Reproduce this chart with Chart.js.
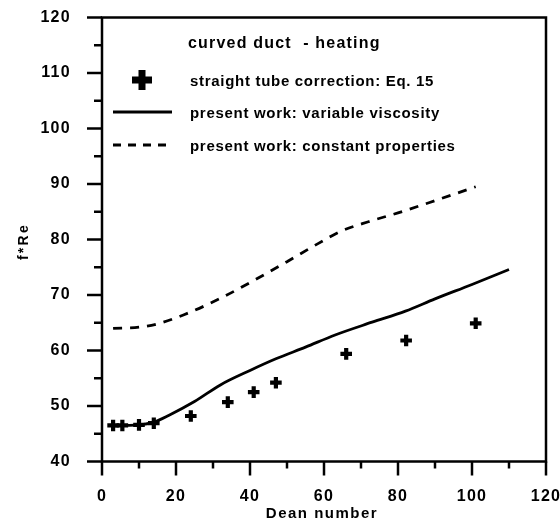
<!DOCTYPE html>
<html>
<head>
<meta charset="utf-8">
<script src="https://cdn.jsdelivr.net/npm/chart.js@4/dist/chart.umd.min.js"></script>
<style>
  html, body { margin: 0; padding: 0; background: #fff; }
  #wrap { width: 560px; height: 524px; }
</style>
</head>
<body>
<div id="wrap"><canvas id="myChart" width="560" height="524"></canvas></div>
<script>
// straight tube correction (Eq. 15) - the plus markers
const eqDean = [3, 5.5, 10, 14, 24, 34, 41, 47, 66, 82.2, 101];
const eqFRe = [46.5, 46.5, 46.6, 46.9, 48.2, 50.7, 52.5, 54.2, 59.4, 61.8, 64.9];

// present work: variable viscosity (solid)
const varDean = [3, 6, 10, 14, 18, 25, 32, 40, 47, 55, 63, 73, 82, 90, 100, 110];
const varFRe = [46.4, 46.5, 46.6, 47.1, 48.3, 50.8, 53.8, 56.4, 58.5, 60.6, 62.8, 65.1, 67.1, 69.3, 71.9, 74.6];

// present work: constant properties (dashed)
const constDean = [3, 10, 15, 22, 32, 41, 50, 58.5, 65, 72, 80, 90, 101];
const constFRe = [64, 64.2, 64.8, 66.4, 69.4, 72.6, 76, 79.3, 81.6, 83.2, 84.8, 87, 89.5];

const legendTitle = 'curved duct  - heating';
const xTitle = 'Dean number';
const yTitle = 'f*Re';
const xTicks = [0, 20, 40, 60, 80, 100, 120];
const yTicks = [40, 50, 60, 70, 80, 90, 100, 110, 120];

const FONT = 'Arial, "Liberation Sans", sans-serif';

function pts(xs, ys) {
    return xs.map((x, i) => ({ x: x, y: ys[i] }));
}

// the old plot has wide spaced lettering, chart.js has no option for it
const spacingPlugin = {
    id: 'spacing',
    beforeUpdate(chart) { chart.ctx.letterSpacing = '1.3px'; },
    beforeDraw(chart) { chart.ctx.letterSpacing = '1.3px'; }
};

// box + major/minor ticks + axis titles + legend, drawn on top
const framePlugin = {
    id: 'frame',
    afterDraw(chart) {
        const ctx = chart.ctx;
        const a = chart.chartArea;
        const xs = chart.scales.x;
        const ys = chart.scales.y;
        ctx.save();
        ctx.strokeStyle = '#000';
        ctx.lineWidth = 2.5;
        ctx.strokeRect(a.left, a.top, a.right - a.left, a.bottom - a.top);

        // y ticks, every 5, major every 10
        for (let v = 40; v <= 120; v += 5) {
            const y = ys.getPixelForValue(v);
            const len = v % 10 === 0 ? 15 : 8;
            ctx.beginPath();
            ctx.moveTo(a.left - len, y);
            ctx.lineTo(a.left, y);
            ctx.stroke();
        }
        // x ticks, every 10, major every 20
        for (let v = 0; v <= 120; v += 10) {
            const x = xs.getPixelForValue(v);
            const len = v % 20 === 0 ? 14 : 7;
            ctx.beginPath();
            ctx.moveTo(x, a.bottom);
            ctx.lineTo(x, a.bottom + len);
            ctx.stroke();
        }

        ctx.fillStyle = '#000';

        // axis titles
        ctx.textAlign = 'center';
        ctx.textBaseline = 'alphabetic';
        ctx.font = 'bold 15px ' + FONT;
        ctx.letterSpacing = '1.5px';
        ctx.fillText(xTitle, (a.left + a.right) / 2 - 2, 518);

        ctx.save();
        ctx.translate(28, (a.top + a.bottom) / 2 + 2);
        ctx.rotate(-Math.PI / 2);
        ctx.font = 'bold 14px ' + FONT;
        ctx.letterSpacing = '2.3px';
        ctx.fillText(yTitle, 0, 0);
        ctx.restore();

        // legend
        const ds = chart.data.datasets;
        ctx.textAlign = 'left';
        ctx.textBaseline = 'alphabetic';
        ctx.font = 'bold 16px ' + FONT;
        ctx.letterSpacing = '1.2px';
        ctx.fillText(legendTitle, 188, 47.5);

        ctx.font = 'bold 15px ' + FONT;
        ctx.letterSpacing = '0.7px';
        const rows = [80, 112, 145];
        // plus marker
        ctx.lineWidth = 7;
        ctx.beginPath();
        ctx.moveTo(132, rows[0]); ctx.lineTo(152, rows[0]);
        ctx.moveTo(142, rows[0] - 10); ctx.lineTo(142, rows[0] + 10);
        ctx.stroke();
        // solid line
        ctx.lineWidth = 2.8;
        ctx.beginPath();
        ctx.moveTo(113, rows[1]); ctx.lineTo(172, rows[1]);
        ctx.stroke();
        // dashed line
        ctx.setLineDash([8, 7]);
        ctx.beginPath();
        ctx.moveTo(113, rows[2]); ctx.lineTo(172, rows[2]);
        ctx.stroke();
        ctx.setLineDash([]);

        ctx.fillText(ds[0].label, 190, rows[0] + 5.5);
        ctx.fillText(ds[1].label, 190, rows[1] + 5.5);
        ctx.fillText(ds[2].label, 190, rows[2] + 5.5);
        ctx.restore();
    }
};

const ctx = document.getElementById('myChart');
const myChart = new Chart(ctx, {
    type: 'scatter',
    data: {
        datasets: [
            {
                label: 'straight tube correction: Eq. 15',
                data: pts(eqDean, eqFRe),
                pointStyle: 'cross',
                pointRadius: 5.8,
                pointBorderWidth: 4.2,
                borderColor: '#000',
                backgroundColor: '#000',
                showLine: false
            },
            {
                label: 'present work: variable viscosity',
                data: pts(varDean, varFRe),
                showLine: true,
                pointRadius: 0,
                borderColor: '#000',
                borderWidth: 2.8,
                cubicInterpolationMode: 'monotone'
            },
            {
                label: 'present work: constant properties',
                data: pts(constDean, constFRe),
                showLine: true,
                pointRadius: 0,
                borderColor: '#000',
                borderWidth: 2.8,
                borderDash: [9, 8],
                cubicInterpolationMode: 'monotone'
            }
        ]
    },
    options: {
        responsive: false,
        animation: false,
        layout: { padding: { left: 0, right: 14, top: 17.5, bottom: 0 } },
        plugins: {
            legend: { display: false },
            tooltip: { enabled: false }
        },
        scales: {
            x: {
                type: 'linear',
                min: 0,
                max: 120,
                afterFit(scale) {
                    scale.height = 62.5;
                    scale.paddingLeft = 0;
                    scale.paddingRight = 0;
                },
                afterBuildTicks(scale) { scale.ticks = xTicks.map(v => ({ value: v })); },
                grid: { display: false },
                border: { display: false },
                ticks: {
                    color: '#000',
                    padding: 17,
                    maxRotation: 0,
                    font: { family: FONT, size: 16, weight: 'bold' }
                }
            },
            y: {
                type: 'linear',
                min: 40,
                max: 120,
                afterFit(scale) {
                    scale.width = 102;
                    scale.paddingTop = 0;
                    scale.paddingBottom = 0;
                },
                afterBuildTicks(scale) { scale.ticks = yTicks.map(v => ({ value: v })); },
                grid: { display: false },
                border: { display: false },
                ticks: {
                    color: '#000',
                    padding: 23,
                    font: { family: FONT, size: 16, weight: 'bold' }
                }
            }
        }
    },
    plugins: [spacingPlugin, framePlugin]
});
</script>
</body>
</html>
